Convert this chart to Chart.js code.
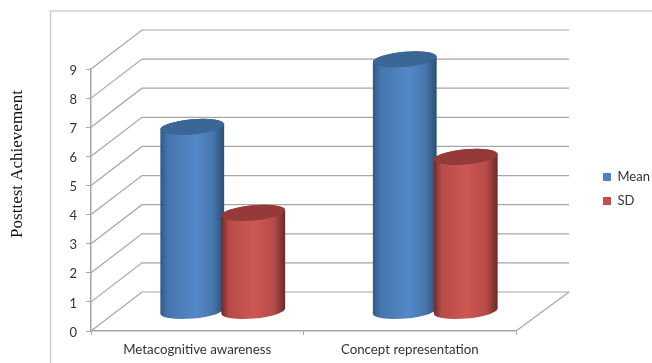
<!DOCTYPE html>
<html>
<head>
<meta charset="utf-8">
<title>Posttest Achievement</title>
<script src="https://cdn.jsdelivr.net/npm/chart.js@4/dist/chart.umd.min.js"></script>
<style>
  body { margin: 0; background: #fff; }
  canvas { display: block; }
</style>
</head>
<body>
<canvas id="chart" width="652" height="363"></canvas>
<script>
var categories = ["Metacognitive awareness", "Concept representation"];
var meanValues = [6.34, 8.66];
var sdValues = [3.39, 5.31];

var gridColor = "#a6a6a6";
var labelColor = "#333333";
var depthX = 51;
var depthY = -39;

var blueStops = [[0, "#2f5a88"], [0.12, "#4475ad"], [0.55, "#5588c8"], [0.82, "#4677ad"], [1, "#2b4e75"]];
var redStops = [[0, "#6c2a29"], [0.12, "#b74b48"], [0.5, "#cd5753"], [0.82, "#b84c49"], [1, "#692928"]];

// frame round the plot, open at the page edges
var framePlugin = {
    id: "frame",
    beforeDraw: function (chart) {
        var ctx = chart.ctx;
        ctx.save();
        ctx.strokeStyle = "#cfcfcf";
        ctx.lineWidth = 1.5;
        ctx.beginPath();
        ctx.moveTo(50.5, 363);
        ctx.lineTo(50.5, 11);
        ctx.lineTo(652, 11);
        ctx.stroke();
        ctx.restore();
    }
};

// back wall and floor, offset from the front axes by the depth
var wallPlugin = {
    id: "walls",
    beforeDatasetsDraw: function (chart) {
        var ctx = chart.ctx;
        var area = chart.chartArea;
        var y = chart.scales.y;
        ctx.save();
        ctx.strokeStyle = gridColor;
        ctx.lineWidth = 1.2;
        y.ticks.forEach(function (tick) {
            var py = y.getPixelForValue(tick.value);
            ctx.beginPath();
            ctx.moveTo(area.left, py);
            ctx.lineTo(area.left + depthX, py + depthY);
            ctx.lineTo(area.right + depthX + 2, py + depthY);
            ctx.stroke();
        });
        ctx.beginPath();
        ctx.moveTo(area.right, area.bottom);
        ctx.lineTo(area.right + depthX + 2, area.bottom + depthY);
        ctx.stroke();
        ctx.restore();
    }
};

function barGradient(ctx, left, right, stops) {
    var g = ctx.createLinearGradient(left, 0, right, 0);
    stops.forEach(function (s) {
        g.addColorStop(s[0], s[1]);
    });
    return g;
}

// bars are painted as cylinders standing half way into the depth,
// first dataset first so SD overlaps Mean
var cylinderPlugin = {
    id: "cylinders",
    beforeDatasetsDraw: function (chart) {
        var ctx = chart.ctx;
        var tilt = -5 * Math.PI / 180;
        chart.data.datasets.forEach(function (ds, i) {
            chart.getDatasetMeta(i).data.forEach(function (bar) {
                var p = bar.getProps(["x", "y", "base", "width"], true);
                var cx = p.x + depthX / 2;
                var top = p.y + depthY / 2;
                var bottom = p.base + depthY / 2;
                var a = p.width / 2;
                var b = 7.6;
                ctx.save();
                ctx.fillStyle = barGradient(ctx, cx - a, cx + a, ds.stops);
                ctx.beginPath();
                ctx.ellipse(cx, bottom, a, b, tilt, 0, Math.PI);
                ctx.ellipse(cx, top, a, b, tilt, Math.PI, 2 * Math.PI);
                ctx.closePath();
                ctx.fill();
                ctx.fillStyle = ds.capColor;
                ctx.beginPath();
                ctx.ellipse(cx, top, a, b, tilt, 0, 2 * Math.PI);
                ctx.fill();
                ctx.restore();
            });
        });
        return false;
    }
};

// legend sits in the right margin, outside the plot
var legendPlugin = {
    id: "legendSpot",
    afterLayout: function (chart) {
        var l = chart.legend;
        l.left = 592;
        l.right = 652;
        l.top = 159.5;
        l.bottom = 230;
    }
};

// axis title sits above the middle of the axis, out in the margin
var axisTitlePlugin = {
    id: "axisTitle",
    afterDraw: function (chart) {
        var ctx = chart.ctx;
        ctx.save();
        ctx.translate(18, 164);
        ctx.rotate(-Math.PI / 2);
        ctx.font = "17px 'Liberation Serif'";
        ctx.fillStyle = "#111";
        ctx.textAlign = "center";
        ctx.textBaseline = "middle";
        ctx.fillText("Posttest Achievement", 0, 0);
        ctx.restore();
    }
};

new Chart(document.getElementById("chart"), {
    type: "bar",
    data: {
        labels: categories,
        datasets: [
            { label: "Mean", data: meanValues, backgroundColor: "#4f81bd", stops: blueStops, capColor: "#3b6797" },
            { label: "SD", data: sdValues, backgroundColor: "#c0504d", stops: redStops, capColor: "#953a38" }
        ]
    },
    options: {
        responsive: false,
        animation: false,
        categoryPercentage: 0.574,
        barPercentage: 1.05,
        layout: { padding: { top: 69, right: 136, left: 0, bottom: 0 } },
        plugins: {
            tooltip: { enabled: false },
            legend: {
                position: "chartArea",
                align: "start",
                labels: {
                    boxWidth: 8,
                    boxHeight: 8,
                    padding: 11,
                    color: labelColor,
                    font: { family: "Lato", size: 13 }
                }
            }
        },
        scales: {
            x: {
                afterFit: function (scale) { scale.height = 32; },
                border: { color: gridColor, width: 1.5 },
                grid: { drawOnChartArea: false, color: gridColor, tickLength: 4, lineWidth: 1 },
                ticks: { color: labelColor, padding: 7, maxRotation: 0, font: { family: "Lato", size: 13.3 } }
            },
            y: {
                min: 0,
                max: 9,
                afterFit: function (scale) { scale.width = 91; },
                border: { color: gridColor, width: 1.5 },
                grid: { drawOnChartArea: false, color: gridColor, tickLength: 5, lineWidth: 1 },
                ticks: { stepSize: 1, color: labelColor, padding: 9, labelOffset: 1.5, font: { family: "Lato", size: 13 } }
            }
        }
    },
    plugins: [framePlugin, axisTitlePlugin, legendPlugin, wallPlugin, cylinderPlugin]
});
</script>
</body>
</html>
